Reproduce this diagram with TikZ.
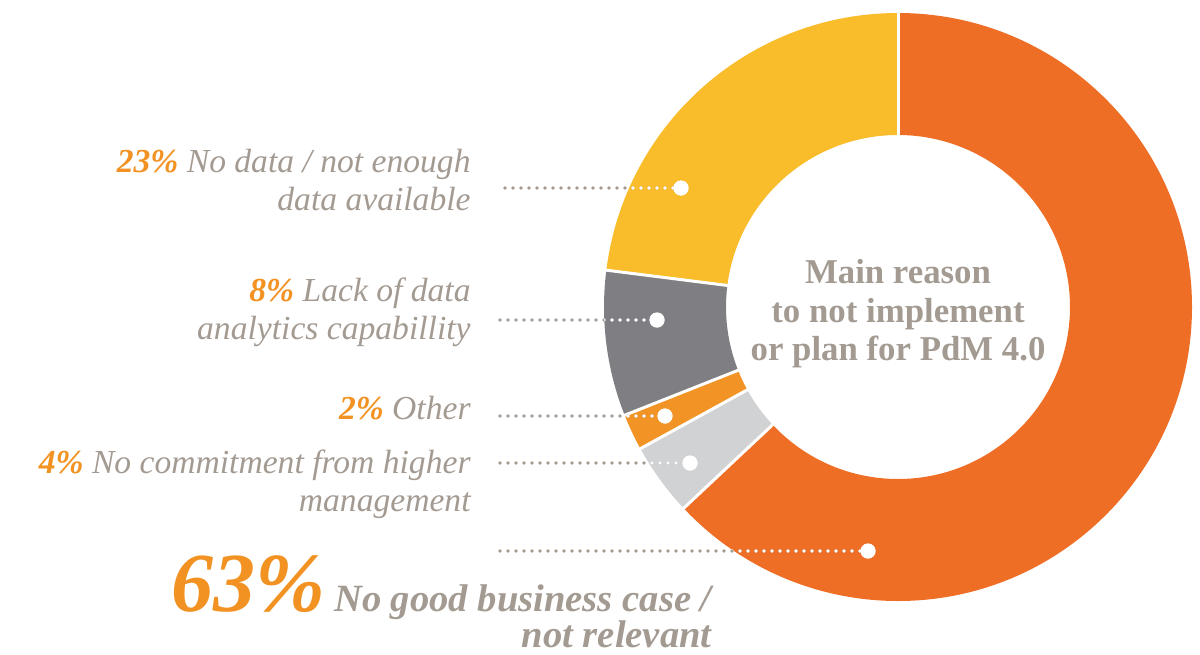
\documentclass[tikz,border=0pt]{standalone}
\usepackage{fontspec}
\setmainfont{Liberation Serif}
\definecolor{orBig}{HTML}{EF6E26}
\definecolor{yel}{HTML}{F9BC2A}
\definecolor{dgray}{HTML}{7F7F83}
\definecolor{orSm}{HTML}{F29425}
\definecolor{lgray}{HTML}{D1D2D4}
\definecolor{txt}{HTML}{A39A92}
\definecolor{pct}{HTML}{F29222}
\tikzset{
  seg/.style={draw=none},
  sep/.style={draw=white, line width=1.5pt},
  lbl/.style={align=right, text=txt, inner sep=0pt, font=\fontsize{16.8}{19}\selectfont\itshape},
  dotline/.style={draw=txt, line width=1.8pt, line cap=round, dash pattern=on 0pt off 4pt},
  wdotline/.style={draw=white, line width=1.8pt, line cap=round, dash pattern=on 0pt off 4pt},
  enddot/.style={circle, fill=white, draw=none, minimum size=7.5pt, inner sep=0pt},
}
\newcommand{\pc}[1]{{\bfseries\color{pct}#1}}
\begin{document}
\begin{tikzpicture}[x=0.5pt,y=-0.5pt]
\useasboundingbox (0,0) rectangle (1200,654);
% donut
\begin{scope}[shift={(898,307)}]
  \def\Ro{147pt}\def\Ri{86pt}
  \fill[orBig] (90:\Ro) arc[start angle=90, end angle=-136.8, radius=\Ro] -- (-136.8:\Ri) arc[start angle=-136.8, end angle=90, radius=\Ri] -- cycle;
  \fill[lgray] (-136.8:\Ro) arc[start angle=-136.8, end angle=-151.2, radius=\Ro] -- (-151.2:\Ri) arc[start angle=-151.2, end angle=-136.8, radius=\Ri] -- cycle;
  \fill[orSm] (-151.2:\Ro) arc[start angle=-151.2, end angle=-158.4, radius=\Ro] -- (-158.4:\Ri) arc[start angle=-158.4, end angle=-151.2, radius=\Ri] -- cycle;
  \fill[dgray] (-158.4:\Ro) arc[start angle=-158.4, end angle=-187.2, radius=\Ro] -- (-187.2:\Ri) arc[start angle=-187.2, end angle=-158.4, radius=\Ri] -- cycle;
  \fill[yel] (-187.2:\Ro) arc[start angle=-187.2, end angle=-270, radius=\Ro] -- (-270:\Ri) arc[start angle=-270, end angle=-187.2, radius=\Ri] -- cycle;
  \foreach \a in {90,-136.8,-151.2,-158.4,-187.2}{
    \draw[sep] (\a:85pt) -- (\a:148pt);
  }
\end{scope}
% centre text
\node[align=center, text=txt, font=\fontsize{17.4}{19.3}\selectfont\bfseries] (title) at (898,314)
  {Main reason\\to not implement\\or plan for PdM 4.0};
% labels
\node[lbl, anchor=east] (l23) at (471,180) {\pc{23\%} No data / not enough\\data available};
\node[lbl, anchor=east] (l8) at (471,312) {\pc{8\%} Lack of data\\analytics capabillity};
\node[lbl, anchor=east] (l2) at (471,408) {\pc{2\%} Other};
\node[lbl, anchor=east] (l4) at (471,484) {\pc{4\%} No commitment from higher\\management};
\node[anchor=base east, inner sep=0pt, text=pct, font=\fontsize{42}{42}\selectfont\bfseries\itshape] (l63) at (326,611) {63\%};
\node[anchor=east, align=right, inner sep=0pt, text=txt, font=\fontsize{19.3}{18}\selectfont\bfseries\itshape] (l63t) at (712,616) {No good business case /\\not relevant};
% connectors
\coordinate (s1) at (505,188); \node[enddot] (d1) at (681,188) {};
\coordinate (s2) at (500,320); \node[enddot] (d2) at (657,320) {};
\coordinate (s3) at (500,416); \node[enddot] (d3) at (665,416) {};
\coordinate (s4) at (500,463); \node[enddot] (d4) at (690,463) {};
\coordinate (s5) at (500,551); \node[enddot] (d5) at (868,551) {};
\foreach \i in {1,...,5}{
  \draw[dotline] (s\i) -- (d\i.center);
}
\begin{scope}
  \clip (898,307) circle[radius=147pt];
  \foreach \i in {1,...,5}{
    \draw[wdotline] (s\i) -- (d\i.center);
  }
\end{scope}
\foreach \i in {1,...,5}{
  \node[enddot] at (d\i) {};
}
\end{tikzpicture}
\end{document}
